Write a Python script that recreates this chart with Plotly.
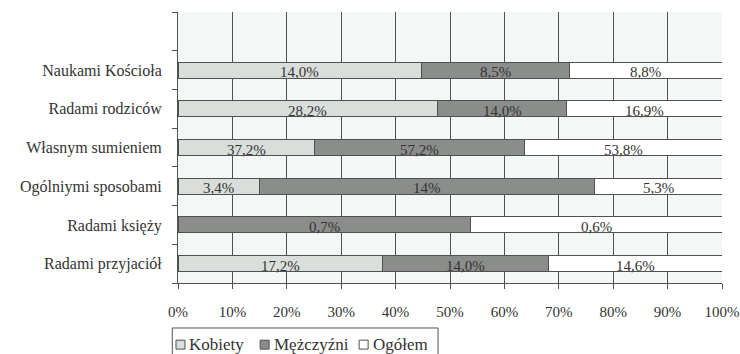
import plotly.graph_objects as go

# Categories listed bottom-to-top (index 0 is drawn at the bottom)
categories = [
    "Radami przyjaciół",
    "Radami księży",
    "Ogólniymi sposobami",
    "Własnym sumieniem",
    "Radami rodziców",
    "Naukami Kościoła",
]

# Values as printed on the bars (comma decimal separator); "" means no segment
kobiety_txt = ["17,2", "", "3,4", "37,2", "28,2", "14,0"]
mezczyzni_txt = ["14,0", "0,7", "14", "57,2", "14,0", "8,5"]
ogolem_txt = ["14,6", "0,6", "5,3", "53,8", "16,9", "8,8"]

series_names = ["Kobiety", "Mężczyźni", "Ogółem"]
series_txt = [kobiety_txt, mezczyzni_txt, ogolem_txt]
fill_colors = ["#d9dedb", "#8b8d8b", "#ffffff"]

x_ticks = [0, 10, 20, 30, 40, 50, 60, 70, 80, 90, 100]
x_tick_text = [f"{t}%" for t in x_ticks]


def to_num(s):
    return float(s.replace(",", ".")) if s else 0.0


series_vals = [[to_num(s) for s in txt] for txt in series_txt]
ypos = list(range(len(categories)))

FONT = "Times New Roman"
TXT = "#333333"
LINE = "#505050"

fig = go.Figure()
for name, vals, color in zip(series_names, series_vals, fill_colors):
    fig.add_trace(go.Bar(
        name=name,
        y=ypos,
        x=vals,
        orientation="h",
        marker=dict(color=color, line=dict(color=LINE, width=1)),
        width=0.41,
        hoverinfo="skip",
        showlegend=False,
    ))

# Segment labels, centred in each normalised segment
for i in ypos:
    total = sum(v[i] for v in series_vals)
    start = 0.0
    for vals, txt in zip(series_vals, series_txt):
        share = vals[i] / total * 100 if total else 0
        if txt[i]:
            fig.add_annotation(
                x=start + share / 2, y=i, xref="x", yref="y",
                text=txt[i] + "%", showarrow=False, yshift=-2,
                font=dict(family=FONT, size=15, color=TXT),
            )
        start += share

# Legend: framed box with a square swatch followed by the series name
fig.add_shape(type="rect", xref="paper", yref="paper",
              x0=-0.0105, x1=0.478, y0=-0.27, y1=-0.166,
              line=dict(color=LINE, width=1), fillcolor="white")
swatch_x = [-0.0037, 0.151, 0.333]
for sx, name, color in zip(swatch_x, series_names, fill_colors):
    fig.add_shape(type="rect", xref="paper", yref="paper",
                  x0=sx, x1=sx + 0.0165, y0=-0.244, y1=-0.211,
                  line=dict(color=LINE, width=1), fillcolor=color)
    fig.add_annotation(
        x=sx + 0.021, y=-0.2275, xref="paper", yref="paper",
        xanchor="left", yanchor="middle", text=name, showarrow=False,
        font=dict(family=FONT, size=17, color=TXT),
    )

fig.update_layout(
    barmode="stack",
    barnorm="percent",
    width=740,
    height=354,
    margin=dict(l=178, r=18, t=12, b=71, autoexpand=False),
    paper_bgcolor="white",
    plot_bgcolor="#f3f8f6",
    showlegend=False,
)

fig.update_xaxes(
    range=[0, 100],
    tickvals=x_ticks,
    ticktext=x_tick_text,
    showgrid=True, gridcolor=LINE, gridwidth=1,
    showline=True, linecolor=LINE, linewidth=1,
    ticks="outside", ticklen=5, tickcolor=LINE,
    ticklabelstandoff=10,
    tickfont=dict(family=FONT, size=15, color=TXT),
    zeroline=False, fixedrange=True, automargin=False,
)

fig.update_yaxes(
    range=[-0.5, len(categories) + 0.5],
    tickvals=ypos,
    ticktext=categories,
    ticks="",
    showgrid=False,
    showline=True, linecolor=LINE, linewidth=1,
    minor=dict(tick0=-0.5, dtick=1, ticks="outside", ticklen=5,
               tickcolor=LINE, showgrid=False),
    ticklabelstandoff=12,
    tickfont=dict(family=FONT, size=16, color=TXT),
    zeroline=False, fixedrange=True, automargin=False,
)

fig.write_html("out.html")
